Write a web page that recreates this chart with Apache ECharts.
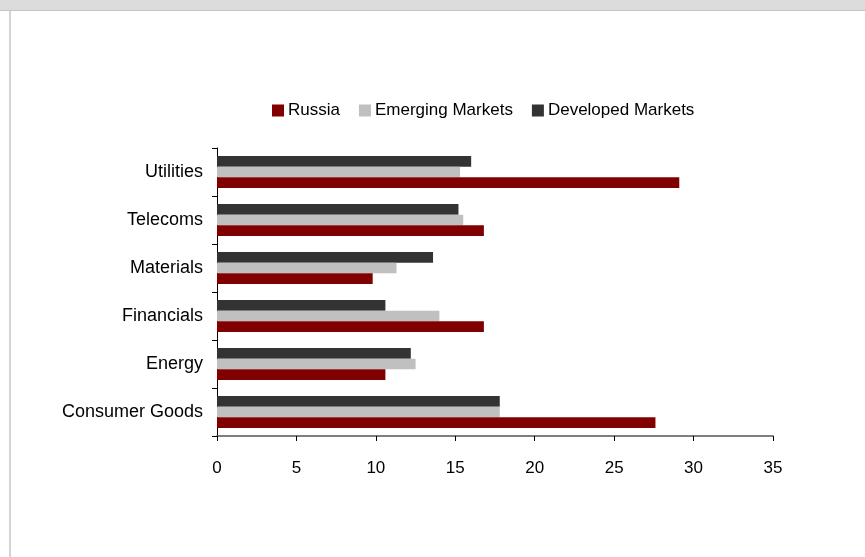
<!DOCTYPE html>
<html>
<head>
<meta charset="utf-8">
<script src="https://cdn.jsdelivr.net/npm/echarts@6/dist/echarts.min.js"></script>
<style>
html,body{margin:0;padding:0;background:#fff;}
#chart{width:865px;height:557px;}
</style>
</head>
<body>
<div id="chart"></div>
<script>
var sectors = ['Consumer Goods','Energy','Financials','Materials','Telecoms','Utilities'];
var russia = [27.6, 10.6, 16.8, 9.8, 16.8, 29.1];
var emerging = [17.8, 12.5, 14.0, 11.3, 15.5, 15.3];
var developed = [17.8, 12.2, 10.6, 13.6, 15.2, 16.0];
var xTicks = [0, 5, 10, 15, 20, 25, 30, 35];

var font = '"Liberation Sans", Arial, sans-serif';

var option = {
    animation: false,
    textStyle: { fontFamily: font },
    graphic: [
        { type: 'rect', shape: { x: 0, y: 0, width: 865, height: 10 }, style: { fill: '#dcdcdc' }, silent: true },
        { type: 'rect', shape: { x: 0, y: 10, width: 865, height: 1 }, style: { fill: '#c4c4c4' }, silent: true },
        { type: 'rect', shape: { x: 9, y: 11, width: 2, height: 546 }, style: { fill: '#d4d4d4' }, silent: true }
    ],
    legend: {
        // legend order differs from draw order
        data: ['Russia', 'Emerging Markets', 'Developed Markets'],
        left: 267,
        top: 97,
        itemWidth: 12,
        itemHeight: 12,
        itemGap: 19,
        icon: 'rect',
        textStyle: { fontFamily: font, fontSize: 17, color: '#000', padding: [3, 0, 0, -1] }
    },
    grid: { left: 217, right: 92, top: 148, bottom: 121, containLabel: false },
    xAxis: {
        type: 'value',
        min: xTicks[0],
        max: xTicks[xTicks.length - 1],
        interval: 5,
        splitLine: { show: false },
        axisLine: { show: true, lineStyle: { color: '#555', width: 1.5 } },
        axisTick: { show: true, length: 5, lineStyle: { color: '#000' } },
        axisLabel: { fontFamily: font, fontSize: 17, color: '#000', margin: 24 }
    },
    yAxis: {
        type: 'category',
        data: sectors,
        axisLine: { show: true, lineStyle: { color: '#000', width: 1 } },
        axisTick: { show: true, length: 5, lineStyle: { color: '#000' } },
        axisLabel: { fontFamily: font, fontSize: 18, color: '#000', margin: 14 }
    },
    series: [
        { name: 'Developed Markets', type: 'bar', data: developed, itemStyle: { color: '#333333' }, barGap: '0%', barCategoryGap: '33%' },
        { name: 'Emerging Markets', type: 'bar', data: emerging, itemStyle: { color: '#c0c0c0' }, barGap: '0%', barCategoryGap: '33%' },
        { name: 'Russia', type: 'bar', data: russia, itemStyle: { color: '#800000' }, barGap: '0%', barCategoryGap: '33%' }
    ]
};

var chart = echarts.init(document.getElementById('chart'));
chart.setOption(option);
</script>
</body>
</html>
